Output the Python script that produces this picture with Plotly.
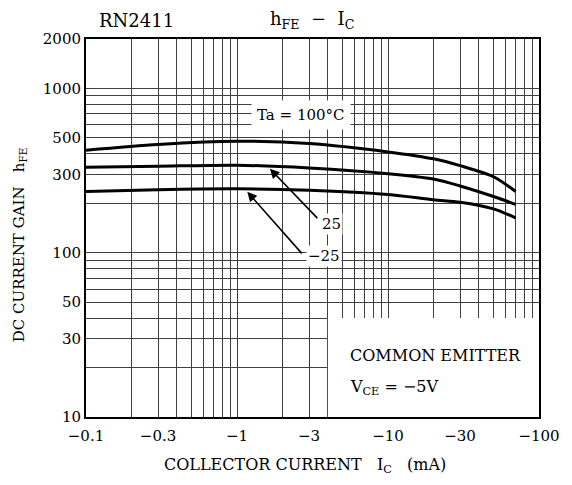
import math
import plotly.graph_objects as go

# Collector current magnitude (mA); axis labels are shown as negative values
ic_ma = [0.1, 0.3, 1, 3, 10, 20, 30, 50, 70]
hfe_100 = [421, 456, 477, 462, 411, 373, 339, 290, 236]
hfe_25 = [331, 336, 341, 328, 303, 281, 255, 220, 197]
hfe_m25 = [236, 242, 245, 240, 226, 210, 203, 185, 163]

x_label_vals = [0.1, 0.3, 1, 3, 10, 30, 100]
x_label_text = ["−0.1", "−0.3", "−1", "−3", "−10", "−30", "−100"]
y_label_vals = [10, 30, 50, 100, 300, 500, 1000, 2000]

# full log grid (1..9 per decade)
x_grid = [m * 10 ** e for e in (-1, 0, 1) for m in range(1, 10)] + [100]
y_grid = [m * 10 ** e for e in (1, 2, 3) for m in range(1, 10) if m * 10 ** e <= 2000]

def fmt_x(v):
    for lv, lt in zip(x_label_vals, x_label_text):
        if abs(v - lv) < 1e-9:
            return lt
    return ""

def fmt_y(v):
    return str(v) if v in y_label_vals else ""

L = math.log10
FONT = "DejaVu Serif"

fig = go.Figure()
for ys in (hfe_100, hfe_25, hfe_m25):
    fig.add_trace(go.Scatter(x=ic_ma, y=ys, mode="lines",
                             line=dict(color="black", width=3, shape="spline", smoothing=0.8),
                             showlegend=False, hoverinfo="skip"))

grid_col = "#404040"
tickf = dict(family=FONT, size=15, color="black")
fig.update_xaxes(type="log", range=[-1, 2], tickvals=x_grid, ticktext=[fmt_x(v) for v in x_grid],
                 showgrid=True, gridcolor=grid_col, gridwidth=1, ticks="", zeroline=False,
                 showline=True, linecolor="black", linewidth=2, mirror=True, tickfont=tickf,
                 ticklabelstandoff=4)
fig.update_yaxes(type="log", range=[1, 3.30103], tickvals=y_grid, ticktext=[fmt_y(v) for v in y_grid],
                 showgrid=True, gridcolor=grid_col, gridwidth=1, ticks="", zeroline=False,
                 showline=True, linecolor="black", linewidth=2, mirror=True, tickfont=tickf)

# white box for the condition text
fig.add_shape(type="rect", xref="x", yref="y", x0=4, x1=100, y0=10, y1=40,
              fillcolor="white", line=dict(width=0), layer="between")

tf = dict(family=FONT, size=15, color="black")
ann = []
ann.append(dict(text="Ta = 100°C", x=L(2.66), y=L(690), xref="x", yref="y", showarrow=False,
                xanchor="center", yanchor="middle", bgcolor="white", borderpad=5, font=tf))
# arrows
ann.append(dict(text="", x=L(1.65), y=L(325), ax=L(3.48), ay=L(159), xref="x", yref="y",
                axref="x", ayref="y", showarrow=True, arrowhead=2, arrowsize=1.2,
                arrowwidth=1.6, arrowcolor="black"))
ann.append(dict(text="", x=L(1.17), y=L(235), ax=L(2.74), ay=L(97), xref="x", yref="y",
                axref="x", ayref="y", showarrow=True, arrowhead=2, arrowsize=1.2,
                arrowwidth=1.6, arrowcolor="black"))
ann.append(dict(text="25", x=L(4.2), y=L(150), xref="x", yref="y", showarrow=False,
                xanchor="center", yanchor="middle", bgcolor="white", borderpad=1, font=tf))
ann.append(dict(text="−25", x=L(3.75), y=L(96), xref="x", yref="y", showarrow=False,
                xanchor="center", yanchor="middle", bgcolor="white", borderpad=1, font=tf))

# pixel helpers (reference pixel positions -> paper coords)
PL, PR, PT, PB = 86, 547, 39, 417
def px(xp):
    return (xp - PL) / (PR - PL)
def py(yp):
    return (PB - yp) / (PB - PT)

def txt(text, xp, yp, size=15, xanchor="center", angle=0):
    return dict(text=text, x=px(xp), y=py(yp), xref="paper", yref="paper", showarrow=False,
                xanchor=xanchor, yanchor="middle", textangle=angle,
                font=dict(family=FONT, size=size, color="black"))

ann.append(txt("COMMON EMITTER", 353, 355, size=16, xanchor="left"))
ann.append(txt("V<sub>CE</sub> = −5V", 353, 387, size=16, xanchor="left"))
ann.append(txt("RN2411", 137, 20, size=18))
ann.append(txt("h<sub>FE</sub>  −  I<sub>C</sub>", 316, 20, size=18))
ann.append(txt("COLLECTOR CURRENT   I<sub>C</sub>   (mA)", 309, 466, size=16))
ann.append(txt("DC CURRENT GAIN   h<sub>FE</sub>", 18, 245, size=15, angle=-90))

# page body has an 8px margin; compensate so the plot lands at the reference pixels
OFF = 8
fig.update_layout(width=572 - OFF, height=485 - OFF,
                  margin=dict(l=PL - OFF, r=572 - PR, t=PT - OFF, b=485 - PB),
                  paper_bgcolor="white", plot_bgcolor="white", annotations=ann)

fig.write_html("out.html")
